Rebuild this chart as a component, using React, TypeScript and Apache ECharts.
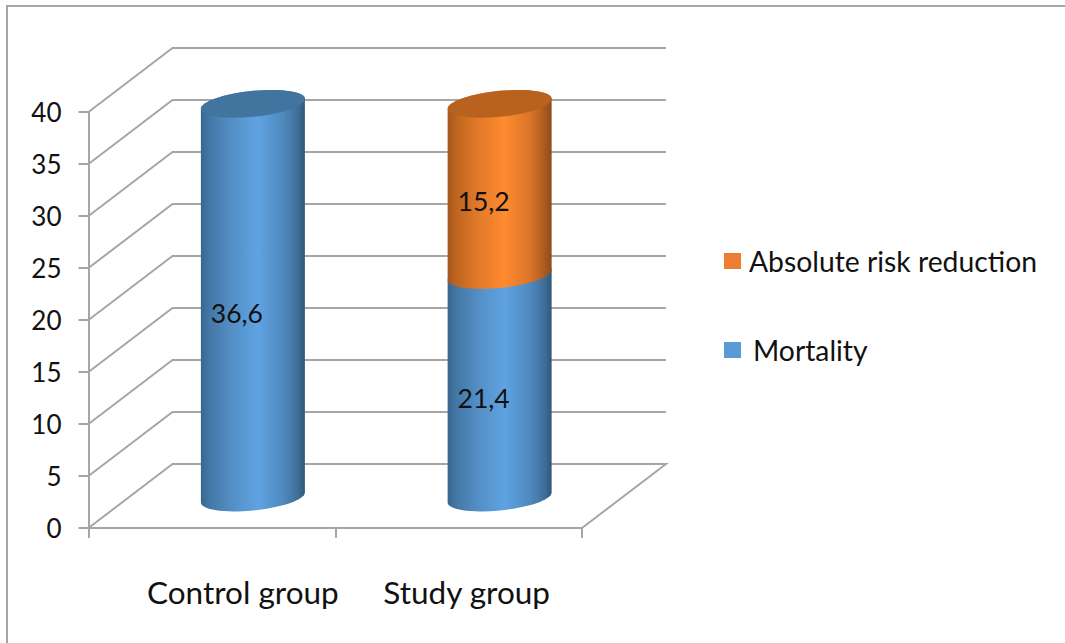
import React, { useEffect, useRef } from "react";
import * as echarts from "echarts";

const categories = ["Control group", "Study group"];
const mortality = [36.6, 21.4];
const absoluteRiskReduction = [null, 15.2];
const yTicks = [0, 5, 10, 15, 20, 25, 30, 35, 40];
const seriesNames = ["Absolute risk reduction", "Mortality"];

const FONT = "Lato, Carlito, Calibri, sans-serif";
const INK = "#111111";
const LINE = "#a6a6a6";
const DEPTH_X = 84;
const DEPTH_Y = -64;
const MID_X = 41;
const MID_Y = -30.5;
const CAP_LIFT = 13;
const RX = 52;
const RY = 13;
const SKEW = 5;

const grad = (stops: [number, string][]) =>
  new echarts.graphic.LinearGradient(0, 0, 1, 0, stops.map(([offset, color]) => ({ offset, color })));

const blueBody = () =>
  grad([[0, "#38678f"], [0.08, "#4377a6"], [0.3, "#548fc6"], [0.55, "#5fa3e2"], [0.8, "#4f88bc"], [0.93, "#3f6f9a"], [1, "#2e5878"]]);
const orangeBody = () =>
  grad([[0, "#a4581f"], [0.08, "#bd651f"], [0.3, "#e47a2a"], [0.55, "#ff8a30"], [0.8, "#d97428"], [0.93, "#aa5c20"], [1, "#8f4b18"]]);

const ellipsePoint = (cx: number, cy: number, t: number) => [
  cx + RX * Math.cos(t),
  cy - SKEW * Math.cos(t) - RY * Math.sin(t),
];

const arc = (cx: number, cy: number, from: number, to: number) => {
  const out: number[][] = [];
  for (let k = 0; k <= 32; k++) out.push(ellipsePoint(cx, cy, from + ((to - from) * k) / 32));
  return out;
};

const segmentRenderer = (values: (number | null)[], bases: number[], body: () => any, capColor: string) =>
  (_: any, api: any) => {
    const i = api.value(0);
    const v = values[i];
    if (v == null) return { type: "group", children: [] };
    const base = bases[i];
    const total = (mortality[i] || 0) + (absoluteRiskReduction[i] || 0);
    const isTop = base + v === total;
    const b = api.coord([i, base]);
    const t = api.coord([i, base + v]);
    const cx = b[0] + MID_X;
    const yb = b[1] + MID_Y;
    const yt = t[1] + MID_Y - (isTop ? CAP_LIFT : 0);
    // front arc of the lower rim (left to right through the bottom), back arc of the upper rim
    const pts = arc(cx, yb, Math.PI, 2 * Math.PI).concat(arc(cx, yt, 0, Math.PI));
    const children: any[] = [{ type: "polygon", shape: { points: pts }, style: { fill: body() } }];
    if (isTop) {
      children.push({
        type: "polygon",
        shape: { points: arc(cx, yt, 0, 2 * Math.PI) },
        style: { fill: capColor },
      });
    }
    children.push({
      type: "text",
      style: {
        text: String(v).replace(".", ","),
        x: cx - 16,
        y: (yb + yt) / 2 + 12,
        fill: INK,
        font: `26.5px ${FONT}`,
        align: "center",
        verticalAlign: "middle",
      },
    });
    return { type: "group", children };
  };

export default function App() {
  const ref = useRef<HTMLDivElement>(null);
  useEffect(() => {
    const chart = echarts.init(ref.current!, null, { renderer: "svg" });
    chart.setOption({
      animation: false,
      backgroundColor: "#ffffff",
      graphic: [
        {
          type: "polyline",
          shape: { points: [[7, 643], [7, 6], [1065, 6]] },
          style: { fill: "none", stroke: LINE, lineWidth: 2 },
          silent: true,
        },
      ],
      grid: { left: 88.5, top: 112, width: 493.5, height: 416, containLabel: false },
      legend: {
        left: 719,
        top: 240,
        orient: "vertical",
        data: [
          { name: seriesNames[0], icon: "rect", textStyle: { padding: [0, 0, 0, 3] } },
          { name: seriesNames[1], icon: "rect", textStyle: { padding: [0, 0, 0, 7] } },
        ],
        itemWidth: 17,
        itemHeight: 16,
        itemGap: 57,
        textStyle: { fontFamily: FONT, fontSize: 28.3, color: INK, lineHeight: 32 },
      },
      xAxis: {
        type: "category",
        data: categories,
        axisLine: { lineStyle: { color: LINE, width: 2 } },
        axisTick: { show: true, length: 10, lineStyle: { color: LINE, width: 2 } },
        axisLabel: {
          interval: 0,
          margin: 48,
          hideOverlap: false,
          formatter: (s: string, i: number) => `{c${i}|${s}}`,
          rich: {
            c0: { fontFamily: FONT, fontSize: 31.5, color: INK, padding: [0, 0, 0, 62] },
            c1: { fontFamily: FONT, fontSize: 31.5, color: INK, padding: [0, 0, 0, 16] },
          },
        },
      },
      yAxis: {
        type: "value",
        min: 0,
        max: 40,
        interval: 5,
        axisLine: { show: true, lineStyle: { color: LINE, width: 2 } },
        axisTick: { show: true, length: 10, lineStyle: { color: LINE, width: 2 } },
        splitLine: { show: false },
        axisLabel: { margin: 27, fontFamily: FONT, fontSize: 26, color: INK },
      },
      series: [
        {
          type: "custom",
          name: "walls",
          silent: true,
          clip: false,
          data: yTicks.map((v) => [0, v]),
          renderItem: (_: any, api: any) => {
            const v = api.value(1);
            const p = api.coord([0, v]);
            const band = api.size([1, 0])[0];
            const x0 = p[0] - band / 2;
            const x1 = x0 + band * categories.length;
            const pts = [[x0, p[1]], [x0 + DEPTH_X, p[1] + DEPTH_Y], [x1 + DEPTH_X, p[1] + DEPTH_Y]];
            if (v === 0) pts.push([x1, p[1]]);
            return {
              type: "polyline",
              shape: { points: pts },
              style: { fill: "none", stroke: LINE, lineWidth: 2 },
            };
          },
        },
        {
          type: "custom",
          name: "Mortality",
          silent: true,
          clip: false,
          itemStyle: { color: "#5b9bd5" },
          data: mortality.map((v, i) => [i, v]),
          renderItem: segmentRenderer(mortality, [0, 0], blueBody, "#41749f"),
        },
        {
          type: "custom",
          name: "Absolute risk reduction",
          silent: true,
          clip: false,
          itemStyle: { color: "#ed7d31" },
          data: absoluteRiskReduction.map((v, i) => [i, v == null ? 0 : v]),
          renderItem: segmentRenderer(absoluteRiskReduction, mortality, orangeBody, "#b9611f"),
        },
      ],
    });
    return () => chart.dispose();
  }, []);
  return <div ref={ref} style={{ position: "absolute", left: 0, top: 0, width: 1065, height: 643 }} />;
}
